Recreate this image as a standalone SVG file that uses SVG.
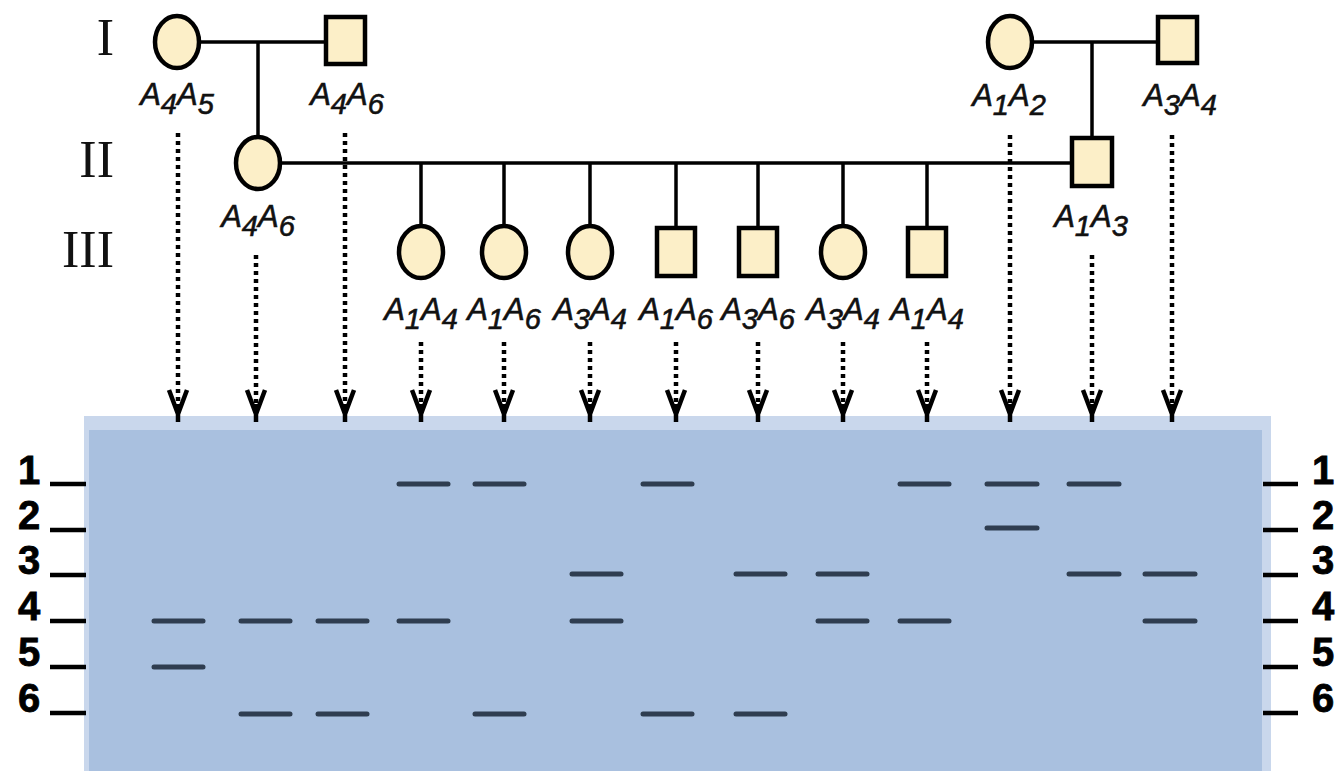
<svg xmlns="http://www.w3.org/2000/svg" width="1336" height="771" viewBox="0 0 1336 771">
<defs>
<style>
.ind{fill:#fcefc8;stroke:#000;stroke-width:4.5}
.ln{stroke:#000;stroke-width:3.5;fill:none}
.dot{stroke:#000;stroke-width:4.5;stroke-dasharray:4 4;fill:none}
.ah{stroke:#000;stroke-width:4.5;fill:none;stroke-linejoin:miter}
.gen{font-family:"Liberation Serif","Times New Roman",serif;font-size:52px;fill:#111}
.lbl{font-family:"Liberation Sans",Arial,sans-serif;font-style:italic;font-size:31px;fill:#111;stroke:#111;stroke-width:0.6}
.sub{font-size:29px}
.num{font-family:"Liberation Sans",Arial,sans-serif;font-weight:bold;font-size:40px;fill:#000;stroke:#000;stroke-width:0.8}
.tick{stroke:#000;stroke-width:4.5}
.band{stroke:#2f3d50;stroke-width:5;stroke-linecap:round}
</style>
<path id="ahd" d="M -9 390 L 0 414 L 9 390 M 0 404 L 0 422" class="ah"/>
</defs>
<rect width="1336" height="771" fill="#fff"/>

<g id="gel">
<rect x="84" y="416" width="1187" height="355" fill="#c9d7ec"/>
<rect x="89" y="430" width="1173" height="341" fill="#a9c0df"/>
</g>

<g id="generation-labels">
<text class="gen" x="114" y="55" text-anchor="end">I</text>
<text class="gen" x="114" y="177" text-anchor="end">II</text>
<text class="gen" x="114" y="267" text-anchor="end">III</text>
</g>

<g id="connectors">
<line class="ln" x1="199" y1="42" x2="326" y2="42"/>
<line class="ln" x1="258" y1="42" x2="258" y2="137"/>
<line class="ln" x1="1032" y1="42" x2="1158" y2="42"/>
<line class="ln" x1="1092" y1="42" x2="1092" y2="138"/>
<line class="ln" x1="280" y1="163" x2="1072" y2="163"/>
<line class="ln" x1="421" y1="163" x2="421" y2="226"/>
<line class="ln" x1="504" y1="163" x2="504" y2="226"/>
<line class="ln" x1="590" y1="163" x2="590" y2="226"/>
<line class="ln" x1="676" y1="163" x2="676" y2="228"/>
<line class="ln" x1="758" y1="163" x2="758" y2="228"/>
<line class="ln" x1="843" y1="163" x2="843" y2="226"/>
<line class="ln" x1="927" y1="163" x2="927" y2="228"/>
<line class="dot" x1="178" y1="133" x2="178" y2="408"/>
<line class="dot" x1="345" y1="133" x2="345" y2="408"/>
<line class="dot" x1="1010" y1="135" x2="1010" y2="408"/>
<line class="dot" x1="1172" y1="135" x2="1172" y2="408"/>
<line class="dot" x1="256" y1="255" x2="256" y2="408"/>
<line class="dot" x1="1092" y1="255" x2="1092" y2="408"/>
<line class="dot" x1="421" y1="342" x2="421" y2="408"/>
<line class="dot" x1="504" y1="342" x2="504" y2="408"/>
<line class="dot" x1="590" y1="342" x2="590" y2="408"/>
<line class="dot" x1="676" y1="342" x2="676" y2="408"/>
<line class="dot" x1="758" y1="342" x2="758" y2="408"/>
<line class="dot" x1="843" y1="342" x2="843" y2="408"/>
<line class="dot" x1="927" y1="342" x2="927" y2="408"/>
<use href="#ahd" x="178"/>
<use href="#ahd" x="256"/>
<use href="#ahd" x="345"/>
<use href="#ahd" x="421"/>
<use href="#ahd" x="504"/>
<use href="#ahd" x="590"/>
<use href="#ahd" x="676"/>
<use href="#ahd" x="758"/>
<use href="#ahd" x="843"/>
<use href="#ahd" x="927"/>
<use href="#ahd" x="1010"/>
<use href="#ahd" x="1092"/>
<use href="#ahd" x="1172"/>
</g>

<g id="I-1">
<ellipse class="ind" cx="177" cy="42" rx="22" ry="26"/>
<text class="lbl" x="177" y="105" text-anchor="middle">A<tspan class="sub" dy="9">4</tspan><tspan dy="-9">A</tspan><tspan class="sub" dy="9">5</tspan></text>
</g>
<g id="I-2">
<rect class="ind" x="326" y="17" width="39" height="47"/>
<text class="lbl" x="347" y="105" text-anchor="middle">A<tspan class="sub" dy="9">4</tspan><tspan dy="-9">A</tspan><tspan class="sub" dy="9">6</tspan></text>
</g>
<g id="I-3">
<ellipse class="ind" cx="1010" cy="42" rx="22" ry="26"/>
<text class="lbl" x="1009" y="106" text-anchor="middle">A<tspan class="sub" dy="9">1</tspan><tspan dy="-9">A</tspan><tspan class="sub" dy="9">2</tspan></text>
</g>
<g id="I-4">
<rect class="ind" x="1158" y="17" width="39" height="46"/>
<text class="lbl" x="1180" y="106" text-anchor="middle">A<tspan class="sub" dy="9">3</tspan><tspan dy="-9">A</tspan><tspan class="sub" dy="9">4</tspan></text>
</g>
<g id="II-1">
<ellipse class="ind" cx="258" cy="163" rx="22" ry="26"/>
<text class="lbl" x="258" y="227" text-anchor="middle">A<tspan class="sub" dy="9">4</tspan><tspan dy="-9">A</tspan><tspan class="sub" dy="9">6</tspan></text>
</g>
<g id="II-2">
<rect class="ind" x="1072" y="138" width="40" height="48"/>
<text class="lbl" x="1091" y="227" text-anchor="middle">A<tspan class="sub" dy="9">1</tspan><tspan dy="-9">A</tspan><tspan class="sub" dy="9">3</tspan></text>
</g>
<g id="III-1">
<ellipse class="ind" cx="421" cy="252" rx="22" ry="26"/>
<text class="lbl" x="421" y="320" text-anchor="middle">A<tspan class="sub" dy="9">1</tspan><tspan dy="-9">A</tspan><tspan class="sub" dy="9">4</tspan></text>
</g>
<g id="III-2">
<ellipse class="ind" cx="504" cy="252" rx="22" ry="26"/>
<text class="lbl" x="504" y="320" text-anchor="middle">A<tspan class="sub" dy="9">1</tspan><tspan dy="-9">A</tspan><tspan class="sub" dy="9">6</tspan></text>
</g>
<g id="III-3">
<ellipse class="ind" cx="590" cy="252" rx="22" ry="26"/>
<text class="lbl" x="590" y="320" text-anchor="middle">A<tspan class="sub" dy="9">3</tspan><tspan dy="-9">A</tspan><tspan class="sub" dy="9">4</tspan></text>
</g>
<g id="III-4">
<rect class="ind" x="657" y="228" width="38" height="48"/>
<text class="lbl" x="676" y="320" text-anchor="middle">A<tspan class="sub" dy="9">1</tspan><tspan dy="-9">A</tspan><tspan class="sub" dy="9">6</tspan></text>
</g>
<g id="III-5">
<rect class="ind" x="739" y="228" width="38" height="48"/>
<text class="lbl" x="758" y="320" text-anchor="middle">A<tspan class="sub" dy="9">3</tspan><tspan dy="-9">A</tspan><tspan class="sub" dy="9">6</tspan></text>
</g>
<g id="III-6">
<ellipse class="ind" cx="843" cy="252" rx="22" ry="26"/>
<text class="lbl" x="843" y="320" text-anchor="middle">A<tspan class="sub" dy="9">3</tspan><tspan dy="-9">A</tspan><tspan class="sub" dy="9">4</tspan></text>
</g>
<g id="III-7">
<rect class="ind" x="908" y="228" width="38" height="48"/>
<text class="lbl" x="927" y="320" text-anchor="middle">A<tspan class="sub" dy="9">1</tspan><tspan dy="-9">A</tspan><tspan class="sub" dy="9">4</tspan></text>
</g>

<g id="size-markers">
<line class="tick" x1="50" y1="484" x2="86" y2="484"/>
<line class="tick" x1="50" y1="530" x2="86" y2="530"/>
<line class="tick" x1="50" y1="575" x2="86" y2="575"/>
<line class="tick" x1="50" y1="621" x2="86" y2="621"/>
<line class="tick" x1="50" y1="667" x2="86" y2="667"/>
<line class="tick" x1="50" y1="713" x2="86" y2="713"/>
<text class="num" x="29" y="484" text-anchor="middle">1</text>
<text class="num" x="29" y="529" text-anchor="middle">2</text>
<text class="num" x="29" y="574" text-anchor="middle">3</text>
<text class="num" x="29" y="620" text-anchor="middle">4</text>
<text class="num" x="29" y="666" text-anchor="middle">5</text>
<text class="num" x="29" y="712" text-anchor="middle">6</text>
<line class="tick" x1="1263" y1="484" x2="1298" y2="484"/>
<line class="tick" x1="1263" y1="530" x2="1298" y2="530"/>
<line class="tick" x1="1263" y1="575" x2="1298" y2="575"/>
<line class="tick" x1="1263" y1="621" x2="1298" y2="621"/>
<line class="tick" x1="1263" y1="667" x2="1298" y2="667"/>
<line class="tick" x1="1263" y1="713" x2="1298" y2="713"/>
<text class="num" x="1323" y="484" text-anchor="middle">1</text>
<text class="num" x="1323" y="529" text-anchor="middle">2</text>
<text class="num" x="1323" y="574" text-anchor="middle">3</text>
<text class="num" x="1323" y="620" text-anchor="middle">4</text>
<text class="num" x="1323" y="666" text-anchor="middle">5</text>
<text class="num" x="1323" y="712" text-anchor="middle">6</text>
</g>

<g id="bands">
<line class="band" x1="154" y1="621" x2="203" y2="621"/>
<line class="band" x1="154" y1="667" x2="203" y2="667"/>
<line class="band" x1="241" y1="621" x2="290" y2="621"/>
<line class="band" x1="241" y1="714" x2="290" y2="714"/>
<line class="band" x1="318" y1="621" x2="367" y2="621"/>
<line class="band" x1="318" y1="714" x2="367" y2="714"/>
<line class="band" x1="399" y1="484" x2="448" y2="484"/>
<line class="band" x1="399" y1="621" x2="448" y2="621"/>
<line class="band" x1="475" y1="484" x2="524" y2="484"/>
<line class="band" x1="475" y1="714" x2="524" y2="714"/>
<line class="band" x1="572" y1="574" x2="621" y2="574"/>
<line class="band" x1="572" y1="621" x2="621" y2="621"/>
<line class="band" x1="643" y1="484" x2="692" y2="484"/>
<line class="band" x1="643" y1="714" x2="692" y2="714"/>
<line class="band" x1="736" y1="574" x2="785" y2="574"/>
<line class="band" x1="736" y1="714" x2="785" y2="714"/>
<line class="band" x1="818" y1="574" x2="867" y2="574"/>
<line class="band" x1="818" y1="621" x2="867" y2="621"/>
<line class="band" x1="900" y1="484" x2="949" y2="484"/>
<line class="band" x1="900" y1="621" x2="949" y2="621"/>
<line class="band" x1="987" y1="484" x2="1037" y2="484"/>
<line class="band" x1="987" y1="528" x2="1037" y2="528"/>
<line class="band" x1="1069" y1="484" x2="1119" y2="484"/>
<line class="band" x1="1069" y1="574" x2="1119" y2="574"/>
<line class="band" x1="1145" y1="574" x2="1195" y2="574"/>
<line class="band" x1="1145" y1="621" x2="1195" y2="621"/>
</g>
</svg>
